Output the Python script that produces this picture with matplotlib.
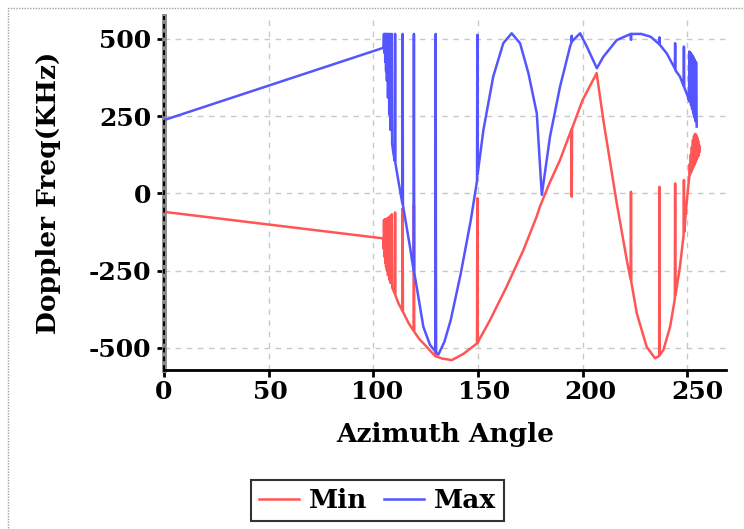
import matplotlib
matplotlib.use("Agg")
import matplotlib.pyplot as plt
import matplotlib.transforms as mtransforms
from matplotlib.patches import Rectangle

# ---- data (azimuth deg, doppler KHz) ----
# the short vertical glitches are single samples with a neighbour on each side
max_angle = [
    0, 104.8, 105.1, 105.3, 105.5, 105.7, 105.9, 106.1, 106.3, 106.5, 106.8,
    107.0, 107.4, 107.6, 108.0, 108.2, 108.8, 109.0, 109.6, 110.25, 110.4,
    110.55, 111.9, 113.85, 114.0, 114.15, 117.5, 119.25, 119.4, 119.55, 120.7,
    123.9, 127.1, 129.65, 129.8, 129.95, 131.1, 134.0, 137.0, 141.8, 146.6,
    149.55, 149.7, 149.85, 152.6, 157.3, 162.1, 166.1, 170.1, 174.1, 178.1,
    180.5, 184.4, 189.2, 194.0, 194.65, 194.8, 194.95, 198.8, 202.0, 206.8,
    209.9, 216.3, 222.95, 223.1, 223.25, 228.0, 232.5, 236.55, 236.7, 236.85,
    240.2, 244.05, 244.2, 244.35, 246.5, 248.25, 248.4, 248.55, 250.0, 250.8,
    251.0, 251.2, 251.6, 251.8, 252.1, 252.3, 252.6, 252.8, 253.0, 253.2,
    253.4, 253.6, 253.8, 254.0, 254.2, 254.5,
]
max_freq = [
    237, 471, 516, 455, 516, 425, 516, 395, 516, 365, 516,
    310, 516, 255, 516, 205, 516, 160, 130, 105, 516,
    98, 43, -32, 516, -38, -173, -250, 516, -257, -302,
    -432, -491, -512, 516, -515, -522, -480, -410, -259, -86,
    40, 513, 62, 205, 378, 486, 518, 486, 389, 259,
    -5, 183, 345, 475, 488, 510, 492, 518, 475, 405,
    442, 496, 516, 497, 516, 516, 507, 483, 505, 481,
    453, 404, 486, 398, 378, 347, 475, 343, 318, 302,
    459, 296, 455, 285, 450, 273, 445, 262, 440, 252,
    434, 243, 428, 233, 424, 216,
]

min_angle = [
    0, 104.8, 105.0, 105.1, 105.3, 105.5, 105.7, 105.9, 106.1, 106.3, 106.5,
    106.8, 107.0, 107.4, 107.6, 108.0, 108.2, 108.8, 109.0, 110.25, 110.4,
    110.55, 112.0, 113.85, 114.0, 114.15, 117.0, 119.25, 119.4, 119.55, 122.0,
    124.7, 127.5, 129.65, 129.8, 129.95, 133.0, 137.5, 143.0, 149.55, 149.7,
    149.85, 155.8, 163.7, 171.7, 178.0, 179.6, 184.0, 189.2, 194.65, 194.8,
    194.95, 200.0, 206.7, 209.9, 216.3, 221.1, 222.95, 223.1, 223.25, 225.9,
    230.6, 234.6, 236.55, 236.7, 236.85, 238.6, 241.8, 244.05, 244.2, 244.35,
    246.5, 248.25, 248.4, 248.55, 249.5, 250.5, 251.0, 251.2, 251.4, 251.7,
    251.9, 252.2, 252.4, 252.7, 252.9, 253.2, 253.4, 253.7, 253.9, 254.2,
    254.4, 254.7, 254.9, 255.2, 255.4, 255.7, 255.9,
]
min_freq = [
    -60, -146, -180, -86, -205, -85, -225, -84, -238, -83, -250,
    -81, -265, -78, -280, -74, -290, -68, -305, -325, -62,
    -330, -356, -380, -49, -383, -422, -445, -38, -448, -472,
    -491, -512, -527, -27, -528, -535, -540, -520, -486, -16,
    -483, -410, -302, -184, -76, -43, 30, 108, 206, -11,
    210, 302, 389, 237, -32, -216, -280, 5, -287, -389,
    -497, -534, -527, 21, -523, -507, -432, -342, 32, -330,
    -238, -135, 43, -125, -45, 25, 55, 95, 62, 125,
    70, 150, 78, 172, 85, 185, 92, 192, 100, 190,
    108, 182, 115, 170, 122, 155, 135,
]

x_ticks = [0, 50, 100, 150, 200, 250]
y_ticks = [-500, -250, 0, 250, 500]
# in the reference the x labels sit slightly to the right of their ticks,
# drifting further as x grows
label_stretch = 1.0196

plt.rcParams["font.family"] = "DejaVu Serif"
plt.rcParams["font.weight"] = "bold"
plt.rcParams["axes.unicode_minus"] = False

W, H = 744, 529
fig = plt.figure(figsize=(W / 100, H / 100), dpi=100)
ax = fig.add_axes([164 / W, 1 - 370 / H, (726 - 164) / W, (370 - 16) / H])

ax.plot(min_angle, min_freq, color="#ff5555", lw=1.8, label="Min", zorder=3)
ax.plot(max_angle, max_freq, color="#5555ff", lw=1.8, label="Max", zorder=3)

ax.set_xlim(0, 268.5)
ax.set_ylim(-572, 574)
ax.set_xticks(x_ticks)
ax.set_xticklabels([])
ax.set_yticks(y_ticks)
ax.grid(True, color="#c8c8c8", ls=(0, (4, 4)), lw=1)
ax.set_axisbelow(True)

for s in ("top", "right"):
    ax.spines[s].set_visible(False)
ax.spines["bottom"].set_linewidth(2)
ax.spines["left"].set_color("#8a8a8a")
ax.spines["left"].set_linewidth(3.5)
# dashed black stroke over the grey left axis
ax.plot([0, 0], [0, 1], transform=ax.transAxes, color="black",
        ls=(0, (2.5, 2)), lw=1.4, clip_on=False, zorder=5)

ax.tick_params(axis="both", labelsize=18, width=2, length=5, color="black")
ax.tick_params(axis="y", pad=4)

trans = mtransforms.blended_transform_factory(ax.transData, ax.transAxes)
for v in x_ticks:
    ax.text(v * label_stretch, -0.028, str(v), transform=trans, ha="center",
            va="top", fontsize=18, fontweight="bold", clip_on=False)

ax.set_xlabel("Azimuth Angle", fontsize=19, fontweight="bold")
ax.xaxis.set_label_coords(0.5, -0.148)
ax.set_ylabel("Doppler Freq(KHz)", fontsize=19, fontweight="bold", labelpad=20)

leg = fig.legend(loc="upper center", bbox_to_anchor=(377.5 / W, 1 - 480 / H),
                 ncol=2, fontsize=19, frameon=True, fancybox=False,
                 edgecolor="black", handlelength=1.5, handletextpad=0.38,
                 columnspacing=0.65, borderpad=0.3, borderaxespad=0)
leg.get_frame().set_linewidth(1.5)
for t in leg.get_texts():
    t.set_fontweight("bold")

# light dotted border of the chart container
fig.patches.append(Rectangle((7.5 / W, -0.2), 1.2, 1.2 - 7.5 / H,
                             transform=fig.transFigure, fill=False,
                             ls=(0, (1, 1)), ec="#a0a0a0", lw=1))

fig.savefig("out.png", dpi=100)
